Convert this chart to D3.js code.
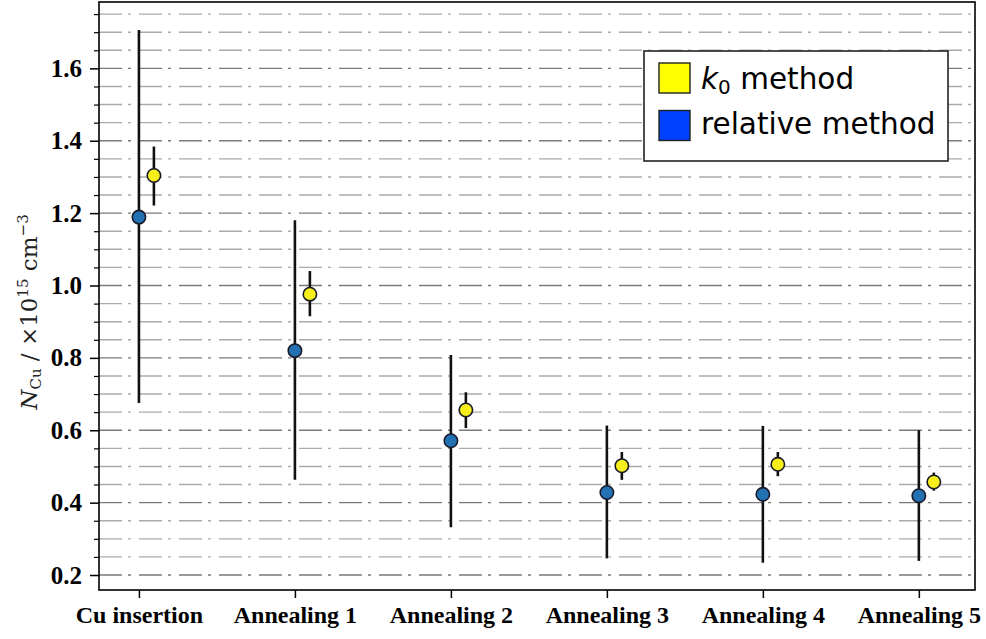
<!DOCTYPE html>
<html><head><meta charset="utf-8">
<script src="https://cdn.jsdelivr.net/npm/d3@7"></script>
<style>body{margin:0;background:#fff}svg{display:block}</style>
</head><body>
<script>
const categories = ["Cu insertion","Annealing 1","Annealing 2","Annealing 3","Annealing 4","Annealing 5"];
const relValue = [1.189, 0.820, 0.571, 0.428, 0.423, 0.419];
const relLow   = [0.675, 0.463, 0.332, 0.246, 0.234, 0.239];
const relHigh  = [1.706, 1.180, 0.808, 0.613, 0.612, 0.600];
const k0Value  = [1.304, 0.976, 0.656, 0.502, 0.506, 0.457];
const k0Low    = [1.221, 0.915, 0.606, 0.463, 0.473, 0.433];
const k0High   = [1.384, 1.040, 0.705, 0.540, 0.540, 0.483];
const yTicks   = [0.2, 0.4, 0.6, 0.8, 1.0, 1.2, 1.4, 1.6];
const yMinor   = d3.range(0.2, 1.76, 0.05).map(v => +v.toFixed(2));

const W = 986, H = 639;
const L = 99, R = 975, T = 2, B = 590;
const svg = d3.select("body").append("svg").attr("width", W).attr("height", H);

const x = d3.scaleLinear().domain([-0.256, 5.36]).range([L, R]);
const y = d3.scaleLinear().domain([0.1586, 1.7834]).range([B, T]);
const off = 0.096;

// grid
svg.append("g").selectAll("line").data(yMinor).join("line")
  .attr("x1", L).attr("x2", R)
  .attr("y1", d => y(d)).attr("y2", d => y(d))
  .attr("stroke", d => yTicks.some(t => Math.abs(t - d) < 1e-6) ? "#7a7a7a" : "#aaaaaa")
  .attr("stroke-width", 1.4)
  .attr("stroke-dasharray", "23,6,3,8");

// axes
const yAxis = d3.axisLeft(y).tickValues(yTicks).tickFormat(d3.format(".1f")).tickSize(9).tickPadding(8);
const gy = svg.append("g").attr("transform", `translate(${L},0)`).call(yAxis);
gy.select(".domain").remove();
gy.selectAll(".tick line").attr("stroke", "#000").attr("stroke-width", 1.5);
gy.selectAll("text").attr("font-family", "'Liberation Serif', serif").attr("font-weight", "bold").attr("font-size", 25).attr("fill", "#000");

const yAxisMinor = d3.axisLeft(y).tickValues(yMinor.filter(d => !yTicks.some(t => Math.abs(t - d) < 1e-6))).tickSize(5).tickFormat("");
const gym = svg.append("g").attr("transform", `translate(${L},0)`).call(yAxisMinor);
gym.select(".domain").remove();
gym.selectAll(".tick line").attr("stroke", "#000").attr("stroke-width", 1.2);

const xAxis = d3.axisBottom(x).tickValues(d3.range(categories.length)).tickFormat(i => categories[i]).tickSize(8).tickPadding(8);
const gx = svg.append("g").attr("transform", `translate(0,${B})`).call(xAxis);
gx.select(".domain").remove();
gx.selectAll(".tick line").attr("stroke", "#000").attr("stroke-width", 1.5);
gx.selectAll("text").attr("font-family", "'Liberation Serif', serif").attr("font-weight", "bold").attr("font-size", 24).attr("fill", "#000");

// frame
svg.append("rect").attr("x", L).attr("y", T).attr("width", R - L).attr("height", B - T)
  .attr("fill", "none").attr("stroke", "#000").attr("stroke-width", 1.6);

// error bars + points
const idx = d3.range(categories.length);
const gRel = svg.append("g");
gRel.selectAll("line").data(idx).join("line")
  .attr("x1", i => x(i)).attr("x2", i => x(i))
  .attr("y1", i => y(relLow[i])).attr("y2", i => y(relHigh[i]))
  .attr("stroke", "#111").attr("stroke-width", 2.6);
const gK = svg.append("g");
gK.selectAll("line").data(idx).join("line")
  .attr("x1", i => x(i + off)).attr("x2", i => x(i + off))
  .attr("y1", i => y(k0Low[i])).attr("y2", i => y(k0High[i]))
  .attr("stroke", "#111").attr("stroke-width", 2.6);
gRel.selectAll("circle").data(idx).join("circle")
  .attr("cx", i => x(i)).attr("cy", i => y(relValue[i])).attr("r", 6.7)
  .attr("fill", "#2271b3").attr("stroke", "#1a1a2a").attr("stroke-width", 1.6);
gK.selectAll("circle").data(idx).join("circle")
  .attr("cx", i => x(i + off)).attr("cy", i => y(k0Value[i])).attr("r", 6.7)
  .attr("fill", "#f7ef1a").attr("stroke", "#1a1a2a").attr("stroke-width", 1.6);

// legend
const lg = svg.append("g");
lg.append("rect").attr("x", 644).attr("y", 51).attr("width", 304).attr("height", 110)
  .attr("fill", "#fff").attr("stroke", "#222").attr("stroke-width", 1.6);
lg.append("rect").attr("x", 659).attr("y", 63).attr("width", 31).attr("height", 30)
  .attr("fill", "#ffff00").attr("stroke", "#222").attr("stroke-width", 1.4);
lg.append("rect").attr("x", 659).attr("y", 110.5).attr("width", 31).attr("height", 30)
  .attr("fill", "#0040ff").attr("stroke", "#222").attr("stroke-width", 1.4);
const t1 = lg.append("text").attr("x", 701).attr("y", 89)
  .attr("font-family", "'DejaVu Sans', sans-serif").attr("font-size", 29.5).attr("fill", "#000");
t1.append("tspan").attr("font-style", "italic").text("k");
t1.append("tspan").attr("font-size", 20).attr("dy", 5).text("0");
t1.append("tspan").attr("dy", -5).text(" method");
lg.append("text").attr("x", 701).attr("y", 134)
  .attr("font-family", "'DejaVu Sans', sans-serif").attr("font-size", 29.5).attr("fill", "#000")
  .text("relative method");

// y label
const yl = svg.append("text")
  .attr("transform", `translate(37,${312}) rotate(-90)`)
  .attr("text-anchor", "middle")
  .attr("font-family", "'DejaVu Serif', serif").attr("font-size", 23).attr("fill", "#222");
yl.append("tspan").attr("font-style", "italic").text("N");
yl.append("tspan").attr("font-size", 15).attr("dy", 4).text("Cu");
yl.append("tspan").attr("dy", -4).text(" / ×10");
yl.append("tspan").attr("font-size", 15).attr("dy", -9).text("15");
yl.append("tspan").attr("dy", 9).text(" cm");
yl.append("tspan").attr("font-size", 15).attr("dy", -9).text("−3");
</script>
</body></html>
